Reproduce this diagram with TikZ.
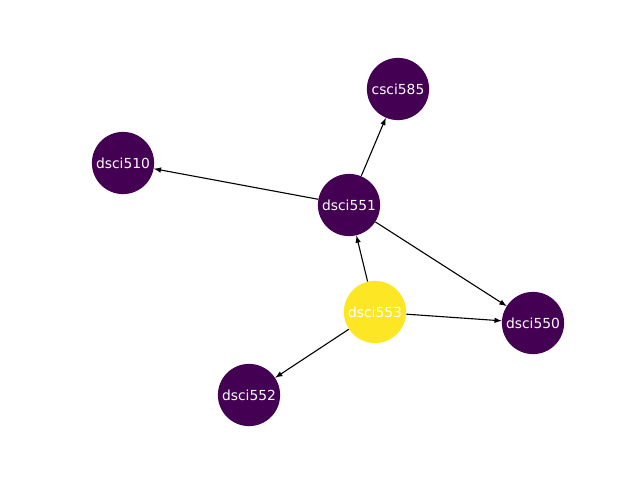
\documentclass[tikz,border=0pt]{standalone}
\usepackage{fontspec}
\setmainfont{DejaVu Sans}
\usepackage{tikz}
\usetikzlibrary{positioning, arrows, shapes}
\definecolor{vdark}{HTML}{440154}
\definecolor{vyellow}{HTML}{FDE725}
\tikzstyle{course} = [circle, minimum size=15.8mm, inner sep=0pt, text centered, fill=vdark, text=white, font=\fontsize{10}{12}\selectfont]
\tikzstyle{query} = [course, fill=vyellow]
\tikzstyle{arrow} = [line width=0.8pt,->,>=latex]

\begin{document}
\begin{tikzpicture}[x=0.254mm, y=-0.254mm]
            \useasboundingbox (0,0) rectangle (640,480);
            \node (csci585) [course] at (398,89) {csci585};
            \node (dsci510) [course] at (123,163) {dsci510};
            \node (dsci551) [course] at (349,205) {dsci551};
            \node (dsci553) [query] at (375,312) {dsci553};
            \node (dsci550) [course] at (533,323) {dsci550};
            \node (dsci552) [course] at (249,395) {dsci552};

            \draw [arrow] (dsci551) -- (csci585);
            \draw [arrow] (dsci551) -- (dsci510);
            \draw [arrow] (dsci551) -- (dsci550);
            \draw [arrow] (dsci553) -- (dsci551);
            \draw [arrow] (dsci553) -- (dsci550);
            \draw [arrow] (dsci553) -- (dsci552);

            \end{tikzpicture}
\end{document}
